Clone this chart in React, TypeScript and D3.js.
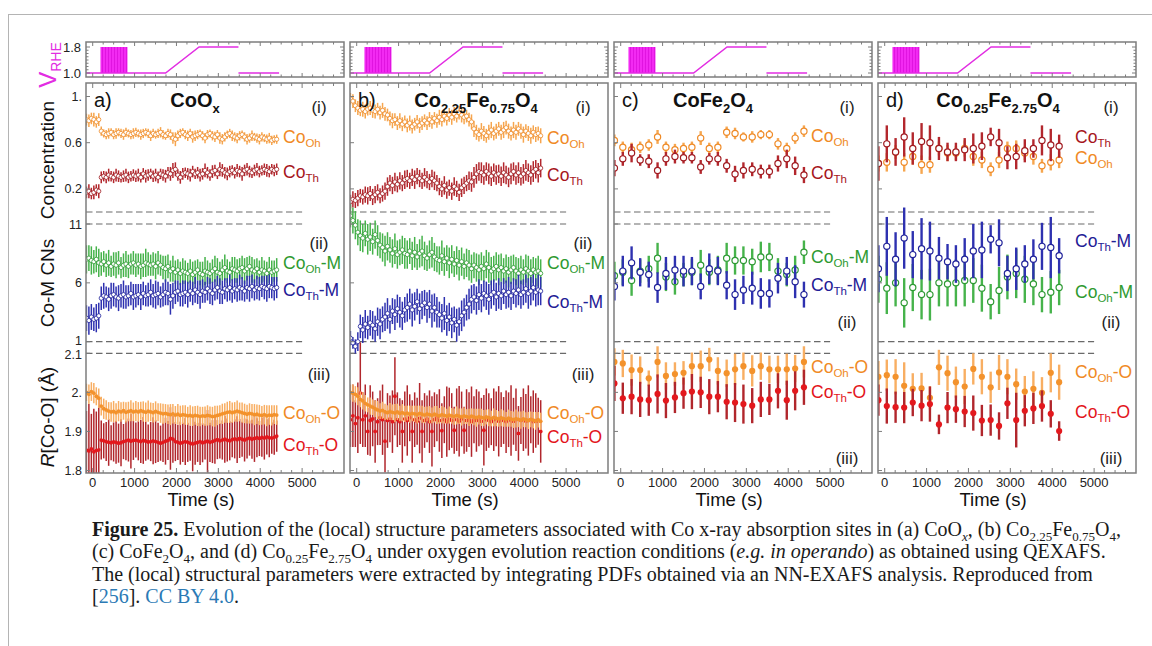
import React from "react";
import * as d3 from "d3";

// ---------- sampling grids ----------
const DENSE_START = -150;
const DENSE_STEP = 59;
const DENSE_COUNT = 78;
const denseTimes = d3.range(DENSE_COUNT).map((k) => DENSE_START + DENSE_STEP * k);
const sparseTimes = [-150, 50, 260, 465, 670, 880, 1080, 1295, 1500, 1700, 1910, 2115, 2320, 2530, 2730, 2930, 3140, 3345, 3550, 3755, 3965, 4165, 4375];
const sparseTimesD = sparseTimes.slice(0, 22);

// ---------- applied potential protocol (V vs RHE) ----------
const potentialMain: [number, number][] = [[-200, 1.0], [185, 1.0], [830, 1.0], [1740, 1.0], [2540, 1.8], [3480, 1.8]];
const potentialTail: [number, number][] = [[3480, 1.0], [4450, 1.0]];
const pulseWindow = { start: 185, end: 830, low: 1.0, high: 1.8 };

// ---------- axis ticks ----------
const timeMajor = [0, 1000, 2000, 3000, 4000, 5000];
const timeMinor = d3.range(0, 6000, 250);
const concTicks = [1.0, 0.6, 0.2];
const concTickLabels = ["1.", "0.6", "0.2"];
const cnTicks = [11, 6, 1];
const cnTickLabels = ["11", "6", "1"];
const rTicks = [2.1, 2.0, 1.9, 1.8];
const rTickLabels = ["2.1", "2.", "1.9", "1.8"];
const vTicks = [1.8, 1.0];
const vTickLabels = ["1.8", "1.0"];
const vMinor = [1.0, 1.1, 1.2, 1.3, 1.4, 1.5, 1.6, 1.7, 1.8];

// ---------- (a) CoOx ----------
const aOhConc = [
  0.80, 0.79, 0.81, 0.80, 0.78, 0.80, 0.70, 0.68, 0.67, 0.68,
  0.69, 0.67, 0.68, 0.69, 0.68, 0.67, 0.69, 0.68, 0.67, 0.68,
  0.69, 0.68, 0.67, 0.68, 0.69, 0.68, 0.66, 0.68, 0.67, 0.68,
  0.69, 0.67, 0.66, 0.68, 0.67, 0.64, 0.63, 0.66, 0.68, 0.69,
  0.67, 0.66, 0.68, 0.65, 0.66, 0.67, 0.68, 0.66, 0.64, 0.67,
  0.68, 0.66, 0.65, 0.67, 0.64, 0.63, 0.65, 0.67, 0.68, 0.66,
  0.65, 0.64, 0.66, 0.67, 0.65, 0.63, 0.64, 0.66, 0.65, 0.64,
  0.63, 0.65, 0.64, 0.63, 0.64, 0.62, 0.63, 0.63,
];
const aOhConcErr = [
  0.050, 0.055, 0.050, 0.060, 0.050, 0.055, 0.040, 0.035, 0.040, 0.045,
  0.035, 0.040, 0.045, 0.035, 0.040, 0.045, 0.040, 0.035, 0.040, 0.045,
  0.040, 0.035, 0.045, 0.040, 0.035, 0.040, 0.045, 0.040, 0.035, 0.040,
  0.045, 0.040, 0.035, 0.040, 0.045, 0.050, 0.060, 0.045, 0.040, 0.035,
  0.040, 0.045, 0.040, 0.050, 0.045, 0.040, 0.035, 0.040, 0.045, 0.040,
  0.035, 0.040, 0.045, 0.040, 0.050, 0.045, 0.040, 0.035, 0.040, 0.045,
  0.040, 0.045, 0.040, 0.035, 0.040, 0.045, 0.040, 0.045, 0.035, 0.040,
  0.045, 0.040, 0.035, 0.040, 0.045, 0.040, 0.035, 0.040,
];
const aThConc = [
  0.17, 0.18, 0.16, 0.17, 0.19, 0.18, 0.30, 0.31, 0.30, 0.32,
  0.31, 0.30, 0.32, 0.31, 0.30, 0.31, 0.32, 0.30, 0.31, 0.32,
  0.31, 0.32, 0.30, 0.33, 0.31, 0.32, 0.33, 0.31, 0.32, 0.30,
  0.33, 0.32, 0.31, 0.34, 0.33, 0.36, 0.37, 0.32, 0.30, 0.33,
  0.34, 0.33, 0.32, 0.35, 0.33, 0.34, 0.32, 0.33, 0.36, 0.34,
  0.32, 0.35, 0.36, 0.33, 0.37, 0.36, 0.34, 0.33, 0.35, 0.36,
  0.34, 0.36, 0.35, 0.33, 0.36, 0.37, 0.35, 0.34, 0.36, 0.37,
  0.35, 0.36, 0.37, 0.36, 0.35, 0.37, 0.36, 0.37,
];
const aThConcErr = [
  0.050, 0.060, 0.050, 0.060, 0.050, 0.060, 0.050, 0.045, 0.050, 0.055,
  0.045, 0.050, 0.055, 0.050, 0.045, 0.050, 0.055, 0.050, 0.045, 0.050,
  0.050, 0.055, 0.045, 0.050, 0.055, 0.050, 0.045, 0.050, 0.055, 0.050,
  0.045, 0.050, 0.055, 0.050, 0.060, 0.065, 0.060, 0.050, 0.055, 0.050,
  0.045, 0.050, 0.055, 0.050, 0.045, 0.050, 0.055, 0.050, 0.060, 0.050,
  0.050, 0.055, 0.050, 0.045, 0.060, 0.055, 0.050, 0.055, 0.050, 0.045,
  0.050, 0.055, 0.050, 0.060, 0.050, 0.055, 0.050, 0.045, 0.050, 0.055,
  0.050, 0.045, 0.050, 0.055, 0.050, 0.045, 0.050, 0.050,
];
const aOhCN = [
  8.0, 8.1, 7.9, 7.8, 8.0, 7.7, 7.6, 7.8, 7.5, 7.7,
  7.4, 7.6, 7.5, 7.7, 7.3, 7.5, 7.6, 7.4, 7.6, 7.7,
  7.5, 7.6, 7.4, 7.5, 7.7, 7.6, 7.5, 7.6, 7.4, 7.7,
  7.5, 7.3, 7.2, 7.4, 7.0, 7.2, 6.9, 7.1, 6.8, 7.0,
  6.9, 6.8, 7.0, 6.7, 6.9, 7.1, 6.8, 6.7, 7.0, 6.9,
  6.8, 7.0, 7.2, 6.9, 6.8, 7.1, 7.3, 7.0, 6.9, 7.2,
  7.1, 7.0, 7.2, 7.3, 7.0, 7.2, 7.4, 7.1, 7.0, 7.2,
  6.9, 7.1, 7.0, 6.8, 7.1, 6.9, 7.0, 7.1,
];
const aOhCNErr = [
  1.2, 1.1, 1.2, 1.0, 1.1, 1.2, 1.0, 0.9, 1.0, 1.1,
  0.9, 1.0, 1.1, 1.0, 0.9, 1.0, 1.1, 1.0, 0.9, 1.0,
  1.0, 0.9, 1.1, 1.0, 1.2, 1.0, 0.9, 1.0, 1.1, 1.0,
  0.9, 1.0, 1.1, 1.0, 0.9, 1.1, 1.0, 0.9, 1.0, 1.1,
  1.0, 0.9, 1.0, 1.1, 1.0, 0.9, 1.0, 1.1, 1.2, 1.0,
  0.9, 1.0, 1.1, 1.2, 1.0, 0.9, 1.1, 1.0, 0.9, 1.0,
  1.1, 1.0, 0.9, 1.0, 1.1, 1.0, 0.9, 1.1, 1.0, 0.9,
  1.0, 1.1, 0.9, 1.0, 1.1, 1.0, 0.9, 1.0,
];
const aThCN = [
  3.0, 2.8, 3.1, 2.9, 3.0, 3.2, 4.7, 4.9, 4.8, 4.6,
  4.9, 5.0, 4.8, 4.7, 4.9, 5.0, 4.8, 4.9, 5.1, 4.8,
  4.9, 5.0, 4.8, 5.1, 4.9, 5.0, 5.2, 4.9, 5.0, 5.1,
  4.8, 5.0, 5.2, 5.1, 4.6, 4.9, 5.2, 5.3, 5.0, 5.1,
  5.2, 5.0, 5.3, 5.1, 5.4, 5.2, 5.0, 5.3, 5.2, 5.5,
  5.3, 5.1, 5.4, 5.6, 5.3, 5.2, 5.5, 5.4, 5.6, 5.3,
  5.5, 5.4, 5.6, 5.5, 5.3, 5.6, 5.5, 5.7, 5.4, 5.6,
  5.5, 5.7, 5.6, 5.5, 5.7, 5.6, 5.5, 5.6,
];
const aThCNErr = [
  1.1, 1.2, 1.1, 1.0, 1.2, 1.1, 1.0, 1.1, 0.9, 1.0,
  1.1, 1.0, 0.9, 1.1, 1.0, 1.2, 1.0, 0.9, 1.0, 1.1,
  1.0, 0.9, 1.1, 1.0, 0.9, 1.0, 1.1, 1.0, 1.2, 1.0,
  0.9, 1.0, 1.1, 1.0, 1.3, 1.1, 1.0, 0.9, 1.0, 1.1,
  1.0, 1.1, 0.9, 1.0, 1.1, 1.0, 1.2, 1.0, 0.9, 1.0,
  1.1, 1.0, 0.9, 1.0, 1.1, 1.0, 0.9, 1.0, 1.1, 1.0,
  0.9, 1.0, 1.1, 1.0, 0.9, 1.0, 1.1, 1.0, 0.9, 1.0,
  1.0, 0.9, 1.0, 1.1, 1.0, 0.9, 1.0, 0.9,
];
const aOhR = [
  2.000, 1.995, 2.002, 1.998, 1.990, 1.985, 1.965, 1.958, 1.955, 1.952,
  1.950, 1.951, 1.948, 1.952, 1.950, 1.953, 1.949, 1.951, 1.953, 1.950,
  1.952, 1.950, 1.953, 1.951, 1.949, 1.952, 1.950, 1.948, 1.951, 1.949,
  1.947, 1.945, 1.946, 1.944, 1.943, 1.945, 1.942, 1.944, 1.941, 1.943,
  1.942, 1.940, 1.941, 1.939, 1.941, 1.940, 1.938, 1.940, 1.939, 1.941,
  1.940, 1.938, 1.939, 1.941, 1.943, 1.945, 1.947, 1.949, 1.950, 1.948,
  1.950, 1.952, 1.950, 1.948, 1.946, 1.944, 1.946, 1.945, 1.943, 1.944,
  1.942, 1.941, 1.943, 1.940, 1.942, 1.941, 1.943, 1.942,
];
const aOhRErr = [
  0.022, 0.025, 0.024, 0.026, 0.023, 0.025, 0.024, 0.026, 0.025, 0.023,
  0.025, 0.027, 0.024, 0.026, 0.025, 0.023, 0.026, 0.025, 0.027, 0.024,
  0.026, 0.025, 0.023, 0.026, 0.025, 0.027, 0.024, 0.025, 0.026, 0.023,
  0.025, 0.026, 0.024, 0.025, 0.027, 0.025, 0.023, 0.026, 0.025, 0.024,
  0.025, 0.023, 0.026, 0.025, 0.024, 0.026, 0.025, 0.023, 0.025, 0.026,
  0.024, 0.025, 0.027, 0.025, 0.024, 0.026, 0.025, 0.027, 0.028, 0.026,
  0.025, 0.027, 0.024, 0.026, 0.025, 0.024, 0.026, 0.025, 0.027, 0.025,
  0.026, 0.024, 0.025, 0.027, 0.025, 0.026, 0.024, 0.025,
];
const aThR = [
  1.852, 1.850, 1.855, 1.848, 1.851, 1.853, 1.878, 1.876, 1.874, 1.872,
  1.871, 1.873, 1.872, 1.870, 1.871, 1.874, 1.876, 1.878, 1.875, 1.877,
  1.878, 1.876, 1.874, 1.877, 1.875, 1.873, 1.874, 1.876, 1.874, 1.872,
  1.870, 1.872, 1.875, 1.877, 1.882, 1.880, 1.874, 1.872, 1.870, 1.872,
  1.874, 1.872, 1.870, 1.868, 1.870, 1.872, 1.874, 1.871, 1.873, 1.875,
  1.872, 1.874, 1.877, 1.879, 1.876, 1.878, 1.880, 1.878, 1.876, 1.879,
  1.881, 1.879, 1.882, 1.880, 1.878, 1.881, 1.883, 1.880, 1.882, 1.884,
  1.882, 1.885, 1.883, 1.886, 1.884, 1.883, 1.885, 1.888,
];
const aThRErr = [
  0.100, 0.120, 0.090, 0.110, 0.100, 0.130, 0.050, 0.045, 0.050, 0.060,
  0.045, 0.050, 0.055, 0.050, 0.060, 0.045, 0.050, 0.055, 0.070, 0.050,
  0.045, 0.050, 0.055, 0.060, 0.050, 0.045, 0.050, 0.060, 0.055, 0.050,
  0.045, 0.050, 0.060, 0.050, 0.080, 0.060, 0.050, 0.045, 0.055, 0.050,
  0.060, 0.050, 0.045, 0.070, 0.055, 0.050, 0.060, 0.050, 0.045, 0.080,
  0.050, 0.055, 0.060, 0.050, 0.045, 0.050, 0.060, 0.055, 0.050, 0.045,
  0.050, 0.060, 0.050, 0.045, 0.055, 0.050, 0.045, 0.050, 0.060, 0.050,
  0.045, 0.050, 0.055, 0.045, 0.050, 0.040, 0.045, 0.040,
];

// ---------- (b) Co2.25Fe0.75O4 ----------
const bOhConc = [
  0.98, 0.96, 0.92, 0.90, 0.88, 0.89, 0.87, 0.89, 0.90, 0.88,
  0.87, 0.89, 0.86, 0.88, 0.85, 0.84, 0.81, 0.79, 0.80, 0.77,
  0.79, 0.76, 0.78, 0.75, 0.77, 0.74, 0.76, 0.78, 0.75, 0.77,
  0.79, 0.77, 0.80, 0.78, 0.81, 0.79, 0.82, 0.80, 0.83, 0.81,
  0.84, 0.82, 0.85, 0.83, 0.86, 0.84, 0.82, 0.83, 0.80, 0.78,
  0.72, 0.69, 0.67, 0.70, 0.68, 0.66, 0.69, 0.71, 0.68, 0.70,
  0.72, 0.69, 0.71, 0.73, 0.70, 0.68, 0.71, 0.69, 0.72, 0.70,
  0.67, 0.70, 0.68, 0.66, 0.69, 0.67, 0.68, 0.66,
];
const bOhConcErr = [
  0.050, 0.060, 0.055, 0.060, 0.050, 0.065, 0.060, 0.055, 0.060, 0.065,
  0.060, 0.055, 0.060, 0.065, 0.060, 0.055, 0.060, 0.065, 0.055, 0.060,
  0.065, 0.060, 0.055, 0.060, 0.065, 0.060, 0.055, 0.060, 0.065, 0.060,
  0.055, 0.060, 0.065, 0.060, 0.055, 0.060, 0.065, 0.060, 0.055, 0.060,
  0.060, 0.065, 0.060, 0.055, 0.060, 0.065, 0.060, 0.055, 0.060, 0.065,
  0.070, 0.065, 0.060, 0.070, 0.065, 0.060, 0.065, 0.070, 0.060, 0.065,
  0.060, 0.065, 0.070, 0.060, 0.065, 0.060, 0.070, 0.065, 0.060, 0.065,
  0.070, 0.060, 0.065, 0.070, 0.060, 0.065, 0.060, 0.065,
];
const bThConc = [
  0.09, 0.11, 0.10, 0.12, 0.14, 0.13, 0.15, 0.14, 0.16, 0.13,
  0.15, 0.17, 0.14, 0.16, 0.18, 0.22, 0.25, 0.23, 0.26, 0.24,
  0.27, 0.25, 0.28, 0.29, 0.27, 0.30, 0.28, 0.31, 0.29, 0.27,
  0.30, 0.28, 0.26, 0.29, 0.27, 0.25, 0.22, 0.20, 0.23, 0.19,
  0.21, 0.18, 0.22, 0.20, 0.17, 0.21, 0.23, 0.25, 0.27, 0.26,
  0.30, 0.33, 0.35, 0.34, 0.32, 0.35, 0.33, 0.31, 0.34, 0.32,
  0.33, 0.31, 0.34, 0.32, 0.30, 0.33, 0.35, 0.32, 0.34, 0.31,
  0.33, 0.36, 0.34, 0.32, 0.35, 0.37, 0.34, 0.38,
];
const bThConcErr = [
  0.060, 0.070, 0.065, 0.070, 0.060, 0.065, 0.070, 0.075, 0.065, 0.070,
  0.075, 0.070, 0.065, 0.070, 0.075, 0.080, 0.070, 0.075, 0.080, 0.070,
  0.075, 0.070, 0.080, 0.075, 0.070, 0.075, 0.080, 0.070, 0.075, 0.070,
  0.080, 0.075, 0.070, 0.075, 0.080, 0.070, 0.075, 0.070, 0.080, 0.075,
  0.070, 0.075, 0.080, 0.070, 0.075, 0.080, 0.075, 0.070, 0.080, 0.085,
  0.090, 0.085, 0.080, 0.090, 0.085, 0.080, 0.090, 0.085, 0.080, 0.085,
  0.080, 0.085, 0.090, 0.080, 0.085, 0.090, 0.080, 0.085, 0.090, 0.080,
  0.085, 0.090, 0.080, 0.085, 0.090, 0.080, 0.085, 0.080,
];
const bOhCN = [
  11.7, 11.3, 10.9, 10.3, 10.0, 9.8, 10.2, 9.7, 9.9, 9.5,
  10.1, 9.6, 9.2, 9.0, 8.7, 9.1, 8.8, 8.5, 8.9, 8.4,
  8.6, 8.8, 8.5, 8.4, 8.7, 8.3, 8.6, 8.2, 8.5, 8.7,
  8.3, 8.1, 8.4, 8.6, 8.2, 8.0, 7.9, 8.3, 7.8, 8.1,
  7.7, 8.0, 7.6, 7.9, 7.5, 7.8, 7.4, 7.7, 7.5, 7.2,
  7.5, 7.3, 7.1, 7.4, 7.2, 7.6, 7.3, 7.0, 7.2, 7.4,
  7.1, 7.3, 7.0, 7.2, 6.9, 7.1, 7.3, 7.0, 6.8, 7.1,
  6.9, 7.2, 7.0, 6.8, 7.1, 6.9, 7.0, 6.8,
];
const bOhCNErr = [
  1.0, 1.1, 1.2, 1.1, 1.3, 1.2, 1.1, 1.3, 1.2, 1.1,
  1.2, 1.3, 1.1, 1.2, 1.3, 1.2, 1.1, 1.2, 1.3, 1.2,
  1.1, 1.2, 1.3, 1.2, 1.1, 1.2, 1.3, 1.1, 1.2, 1.3,
  1.2, 1.1, 1.2, 1.3, 1.2, 1.1, 1.2, 1.3, 1.2, 1.1,
  1.3, 1.2, 1.1, 1.2, 1.3, 1.2, 1.1, 1.2, 1.3, 1.2,
  1.1, 1.2, 1.3, 1.2, 1.1, 1.2, 1.3, 1.2, 1.1, 1.2,
  1.3, 1.2, 1.1, 1.2, 1.3, 1.2, 1.1, 1.2, 1.3, 1.2,
  1.1, 1.2, 1.3, 1.2, 1.1, 1.2, 1.3, 1.2,
];
const bThCN = [
  1.3, 0.9, 0.6, 1.0, 2.3, 2.0, 2.5, 2.2, 2.6, 2.4,
  2.1, 2.7, 2.5, 2.9, 3.1, 3.4, 2.9, 3.6, 3.3, 3.8,
  3.5, 3.2, 3.7, 3.9, 4.2, 3.7, 4.0, 4.4, 3.8, 4.1,
  4.3, 3.9, 4.2, 3.6, 3.9, 3.5, 3.3, 3.0, 3.4, 2.8,
  3.1, 2.6, 2.9, 2.4, 2.7, 3.2, 3.5, 3.9, 4.2, 4.6,
  4.8, 4.5, 5.0, 4.7, 5.1, 4.9, 4.6, 5.0, 5.2, 4.8,
  5.1, 4.9, 5.3, 5.0, 5.2, 4.9, 5.3, 5.1, 5.4, 5.0,
  5.2, 5.5, 5.1, 5.3, 5.6, 5.2, 5.4, 5.3,
];
const bThCNErr = [
  0.6, 0.5, 0.6, 0.8, 1.0, 1.1, 1.2, 1.0, 1.1, 1.2,
  1.1, 1.2, 1.3, 1.1, 1.2, 1.3, 1.2, 1.1, 1.3, 1.2,
  1.3, 1.2, 1.1, 1.2, 1.3, 1.4, 1.2, 1.1, 1.3, 1.2,
  1.1, 1.3, 1.2, 1.4, 1.2, 1.3, 1.1, 1.2, 1.4, 1.3,
  1.2, 1.3, 1.1, 1.4, 1.2, 1.3, 1.2, 1.1, 1.3, 1.2,
  1.1, 1.2, 1.3, 1.2, 1.1, 1.2, 1.3, 1.2, 1.1, 1.2,
  1.3, 1.2, 1.1, 1.2, 1.3, 1.2, 1.1, 1.2, 1.3, 1.2,
  1.1, 1.2, 1.3, 1.2, 1.1, 1.2, 1.3, 1.2,
];
const bOhR = [
  2.000, 1.998, 1.995, 1.990, 1.982, 1.978, 1.972, 1.968, 1.965, 1.962,
  1.958, 1.955, 1.952, 1.954, 1.950, 1.948, 1.951, 1.949, 1.947, 1.950,
  1.946, 1.948, 1.945, 1.947, 1.944, 1.946, 1.945, 1.943, 1.946, 1.944,
  1.942, 1.945, 1.943, 1.941, 1.944, 1.942, 1.940, 1.943, 1.941, 1.939,
  1.942, 1.940, 1.938, 1.941, 1.939, 1.937, 1.940, 1.938, 1.936, 1.939,
  1.937, 1.935, 1.938, 1.936, 1.934, 1.937, 1.935, 1.933, 1.936, 1.934,
  1.932, 1.935, 1.933, 1.931, 1.934, 1.932, 1.930, 1.933, 1.931, 1.929,
  1.932, 1.930, 1.928, 1.931, 1.929, 1.927, 1.930, 1.926,
];
const bOhRErr = [
  0.020, 0.022, 0.021, 0.023, 0.020, 0.022, 0.021, 0.019, 0.022, 0.020,
  0.021, 0.023, 0.020, 0.022, 0.021, 0.019, 0.022, 0.020, 0.023, 0.021,
  0.020, 0.022, 0.021, 0.019, 0.022, 0.020, 0.021, 0.023, 0.020, 0.022,
  0.021, 0.019, 0.022, 0.020, 0.021, 0.023, 0.020, 0.022, 0.021, 0.019,
  0.022, 0.020, 0.021, 0.023, 0.020, 0.022, 0.021, 0.019, 0.022, 0.020,
  0.021, 0.023, 0.020, 0.022, 0.021, 0.019, 0.022, 0.020, 0.023, 0.021,
  0.020, 0.022, 0.021, 0.019, 0.022, 0.020, 0.021, 0.023, 0.020, 0.022,
  0.021, 0.019, 0.022, 0.020, 0.021, 0.023, 0.020, 0.022,
];
const bThR = [
  1.930, 1.940, 1.920, 1.935, 1.998, 1.930, 1.940, 1.900, 1.928, 1.932,
  1.900, 1.925, 1.935, 1.930, 1.875, 1.928, 1.932, 1.925, 1.990, 1.930,
  1.925, 1.900, 1.932, 1.928, 1.935, 1.900, 1.930, 1.926, 1.934, 1.900,
  1.928, 1.932, 1.925, 1.900, 1.930, 1.935, 1.928, 1.902, 1.930, 1.925,
  1.932, 1.928, 1.903, 1.930, 1.926, 1.932, 1.903, 1.928, 1.930, 1.925,
  1.930, 1.928, 1.932, 1.926, 1.903, 1.930, 1.928, 1.925, 1.930, 1.932,
  1.926, 1.930, 1.928, 1.925, 1.930, 1.928, 1.926, 1.930, 1.895, 1.928,
  1.930, 1.926, 1.928, 1.930, 1.925, 1.928, 1.926, 1.900,
];
const bThRErr = [
  0.07, 0.08, 0.06, 0.09, 0.13, 0.07, 0.08, 0.06, 0.09, 0.07,
  0.08, 0.06, 0.07, 0.09, 0.08, 0.07, 0.06, 0.08, 0.10, 0.07,
  0.06, 0.08, 0.07, 0.09, 0.06, 0.08, 0.07, 0.06, 0.09, 0.08,
  0.07, 0.06, 0.08, 0.09, 0.07, 0.06, 0.08, 0.07, 0.06, 0.09,
  0.08, 0.07, 0.06, 0.08, 0.09, 0.07, 0.06, 0.08, 0.07, 0.09,
  0.06, 0.08, 0.07, 0.06, 0.09, 0.08, 0.07, 0.06, 0.08, 0.07,
  0.09, 0.07, 0.06, 0.08, 0.07, 0.09, 0.06, 0.08, 0.07, 0.06,
  0.08, 0.07, 0.09, 0.06, 0.08, 0.07, 0.06, 0.08,
];

// ---------- (c) CoFe2O4 ----------
const cOhConc = [0.62, 0.56, 0.54, 0.56, 0.58, 0.65, 0.56, 0.54, 0.55, 0.56, 0.64, 0.55, 0.56, 0.69, 0.68, 0.65, 0.65, 0.67, 0.67, 0.59, 0.55, 0.64, 0.70];
const cOhConcErr = [0.05, 0.05, 0.06, 0.05, 0.05, 0.06, 0.05, 0.05, 0.05, 0.05, 0.06, 0.05, 0.05, 0.05, 0.05, 0.04, 0.05, 0.04, 0.04, 0.05, 0.05, 0.05, 0.05];
const cThConc = [0.38, 0.46, 0.51, 0.45, 0.44, 0.36, 0.46, 0.48, 0.47, 0.47, 0.39, 0.46, 0.46, 0.40, 0.33, 0.36, 0.37, 0.35, 0.35, 0.42, 0.46, 0.40, 0.32];
const cThConcErr = [0.07, 0.06, 0.08, 0.05, 0.06, 0.07, 0.06, 0.06, 0.05, 0.05, 0.06, 0.05, 0.06, 0.06, 0.07, 0.07, 0.06, 0.06, 0.06, 0.07, 0.08, 0.08, 0.07];
const cOhCN = [6.6, 6.9, 6.2, 7.0, 7.2, 8.1, 6.5, 6.1, 6.7, 6.9, 7.5, 6.9, 7.1, 8.1, 7.9, 7.9, 7.8, 8.2, 8.2, 7.0, 6.7, 7.1, 8.6];
const cOhCNErr = [1.2, 1.1, 1.3, 1.0, 1.1, 1.3, 1.2, 1.1, 1.0, 1.1, 1.3, 1.1, 1.2, 1.3, 1.2, 1.2, 1.1, 1.3, 1.2, 1.1, 1.0, 1.2, 1.0];
const cThCN = [5.7, 7.0, 7.7, 6.9, 6.7, 5.6, 6.8, 7.1, 7.0, 7.0, 5.7, 7.2, 7.0, 5.8, 5.0, 5.4, 5.55, 5.1, 5.1, 6.4, 7.0, 6.1, 5.0];
const cThCNErr = [1.2, 1.3, 1.4, 1.2, 1.1, 1.3, 1.4, 1.2, 1.3, 1.2, 1.1, 1.3, 1.2, 1.2, 1.3, 1.2, 1.4, 1.3, 1.2, 1.3, 1.2, 1.4, 1.1];
const cOhR = [2.078, 2.074, 2.057, 2.057, 2.036, 2.078, 2.042, 2.047, 2.050, 2.067, 2.067, 2.084, 2.055, 2.049, 2.059, 2.067, 2.055, 2.067, 2.059, 2.059, 2.059, 2.061, 2.078];
const cOhRErr = [0.035, 0.035, 0.040, 0.035, 0.020, 0.040, 0.035, 0.030, 0.030, 0.035, 0.040, 0.030, 0.035, 0.035, 0.040, 0.035, 0.040, 0.035, 0.035, 0.035, 0.040, 0.035, 0.040];
const cThR = [2.023, 1.985, 1.989, 1.982, 1.980, 1.996, 1.979, 1.987, 1.998, 2.002, 2.000, 1.989, 1.989, 1.976, 1.974, 1.970, 1.966, 1.982, 1.982, 2.004, 1.980, 2.004, 2.013];
const cThRErr = [0.045, 0.040, 0.045, 0.045, 0.040, 0.050, 0.045, 0.040, 0.040, 0.045, 0.040, 0.045, 0.040, 0.045, 0.050, 0.050, 0.045, 0.045, 0.040, 0.045, 0.050, 0.050, 0.045];

// ---------- (d) Co0.25Fe2.75O4 ----------
const dThConc = [0.42, 0.59, 0.52, 0.65, 0.55, 0.61, 0.60, 0.55, 0.52, 0.52, 0.54, 0.55, 0.57, 0.65, 0.60, 0.47, 0.48, 0.53, 0.55, 0.62, 0.58, 0.57];
const dThConcErr = [0.15, 0.16, 0.12, 0.17, 0.14, 0.16, 0.15, 0.10, 0.08, 0.08, 0.10, 0.13, 0.12, 0.08, 0.12, 0.10, 0.11, 0.10, 0.08, 0.13, 0.14, 0.10];
const dOhConc = [0.42, 0.43, 0.52, 0.43, 0.48, 0.41, 0.41, 0.55, 0.51, 0.51, 0.55, 0.48, 0.45, 0.37, 0.45, 0.55, 0.55, 0.51, 0.48, 0.40, 0.43, 0.45];
const dOhConcErr = [0.07, 0.08, 0.06, 0.08, 0.07, 0.08, 0.07, 0.06, 0.07, 0.06, 0.07, 0.08, 0.07, 0.06, 0.07, 0.06, 0.07, 0.06, 0.07, 0.06, 0.07, 0.07];
const dThCN = [7.2, 9.1, 8.0, 9.8, 8.4, 8.9, 8.7, 8.1, 7.8, 7.6, 8.0, 8.7, 8.8, 9.7, 9.4, 6.8, 7.2, 7.6, 8.0, 9.1, 9.0, 8.3];
const dThCNErr = [2.0, 2.5, 2.3, 2.6, 2.0, 2.6, 2.5, 1.8, 1.5, 1.6, 1.8, 2.3, 2.4, 1.2, 2.0, 1.5, 1.8, 1.6, 1.7, 2.0, 2.6, 1.5];
const dOhCN = [6.3, 5.55, 6.0, 4.3, 5.6, 5.0, 5.0, 6.0, 5.9, 6.0, 6.2, 6.2, 5.55, 4.4, 5.35, 6.5, 6.8, 6.3, 5.9, 5.0, 5.2, 5.6];
const dOhCNErr = [2.0, 2.2, 2.0, 2.1, 2.0, 2.1, 2.2, 2.0, 1.9, 2.0, 2.2, 1.9, 2.0, 1.5, 2.0, 1.9, 2.1, 2.0, 1.8, 1.5, 1.8, 1.5];
const dOhR = [2.040, 2.044, 2.040, 2.017, 2.009, 2.010, 1.986, 2.064, 2.049, 2.026, 2.015, 2.060, 2.040, 2.013, 2.051, 2.040, 2.021, 2.002, 2.009, 1.999, 2.050, 2.026];
const dOhRErr = [0.040, 0.040, 0.045, 0.060, 0.040, 0.040, 0.030, 0.045, 0.045, 0.040, 0.045, 0.040, 0.045, 0.040, 0.045, 0.045, 0.040, 0.040, 0.045, 0.040, 0.050, 0.045];
const dThR = [1.980, 1.965, 1.962, 1.961, 1.974, 1.966, 1.970, 1.918, 1.961, 1.957, 1.951, 1.947, 1.928, 1.929, 1.914, 1.972, 1.929, 1.953, 1.959, 1.965, 1.945, 1.901];
const dThRErr = [0.040, 0.045, 0.040, 0.040, 0.035, 0.040, 0.045, 0.025, 0.040, 0.035, 0.040, 0.045, 0.040, 0.040, 0.035, 0.040, 0.070, 0.040, 0.040, 0.040, 0.035, 0.025];

// ---------- layout ----------
const W = 1152;
const H = 646;
const PANEL_X0 = 86;
const PANEL_DX = 264;
const PANEL_W = 258;
const V_TOP = 42;
const V_BOT = 77;
const M_TOP = 83;
const M_BOT = 473;
const T_DOMAIN = [-160, 6000];
const SANS = "'Liberation Sans', Arial, Helvetica, sans-serif";
const SERIF = "'Liberation Serif', 'Times New Roman', serif";
const FRAME = "#7d7d7d";
const MAGENTA = "#e22de2";
const LINK = "#2b7ab5";

const yScales = {
  conc: d3.scaleLinear().domain([0, 1]).range([212, 96.5]),
  cn: d3.scaleLinear().domain([1, 11]).range([341.7, 224]),
  r: d3.scaleLinear().domain([1.8, 2.1]).range([470.5, 353.3]),
};
const yV = d3.scaleLinear().domain([1.0, 1.8]).range([73, 47]);

type Band = "conc" | "cn" | "r";
type Look = { bar: string; stroke: string; fill: string };
const looks: Record<string, Look> = {
  ohConc: { bar: "#f6a64f", stroke: "#ef8a26", fill: "#ffffff" },
  thConc: { bar: "#b3272d", stroke: "#a01a20", fill: "#ffffff" },
  ohCN: { bar: "#46b34b", stroke: "#2e9a34", fill: "#ffffff" },
  thCN: { bar: "#2e31b0", stroke: "#20229a", fill: "#ffffff" },
  ohR: { bar: "#f8ae62", stroke: "none", fill: "#f3922c" },
  thR: { bar: "#b1262c", stroke: "none", fill: "#e3181d" },
};
const textColor = {
  oh: "#f08a25",
  th: "#a6161c",
  ohm: "#2e9a30",
  thm: "#1f2096",
  tho: "#e3151b",
};

type SeriesSpec = { band: Band; times: number[]; values: number[]; errors: number[]; look: string; dense: boolean };
type Part = { t: string; sub?: boolean; it?: boolean; b?: boolean; fill?: string };
type LegendSpec = { parts: Part[]; fill: string; y: number };

const co = (site: string, tail?: string): Part[] => {
  const p: Part[] = [{ t: "Co" }, { t: site, sub: true }];
  if (tail) p.push({ t: tail });
  return p;
};

const dense = (band: Band, values: number[], errors: number[], look: string): SeriesSpec => ({ band, times: denseTimes, values, errors, look, dense: true });
const sparse = (band: Band, times: number[], values: number[], errors: number[], look: string): SeriesSpec => ({ band, times, values, errors, look, dense: false });

const panels = [
  {
    letter: "a)",
    titleX: 109,
    title: [{ t: "CoO" }, { t: "x", sub: true }] as Part[],
    romanY: [113, 249, 380],
    series: [
      dense("conc", aThConc, aThConcErr, "thConc"),
      dense("conc", aOhConc, aOhConcErr, "ohConc"),
      dense("cn", aOhCN, aOhCNErr, "ohCN"),
      dense("cn", aThCN, aThCNErr, "thCN"),
      dense("r", aThR, aThRErr, "thR"),
      dense("r", aOhR, aOhRErr, "ohR"),
    ],
    legends: [
      { parts: co("Oh"), fill: textColor.oh, y: 143 },
      { parts: co("Th"), fill: textColor.th, y: 178 },
      { parts: co("Oh", "-M"), fill: textColor.ohm, y: 269 },
      { parts: co("Th", "-M"), fill: textColor.thm, y: 296 },
      { parts: co("Oh", "-O"), fill: textColor.oh, y: 419 },
      { parts: co("Th", "-O"), fill: textColor.tho, y: 451 },
    ] as LegendSpec[],
  },
  {
    letter: "b)",
    titleX: 126,
    title: [{ t: "Co" }, { t: "2.25", sub: true }, { t: "Fe" }, { t: "0.75", sub: true }, { t: "O" }, { t: "4", sub: true }] as Part[],
    romanY: [113, 249, 380],
    series: [
      dense("conc", bThConc, bThConcErr, "thConc"),
      dense("conc", bOhConc, bOhConcErr, "ohConc"),
      dense("cn", bOhCN, bOhCNErr, "ohCN"),
      dense("cn", bThCN, bThCNErr, "thCN"),
      dense("r", bThR, bThRErr, "thR"),
      dense("r", bOhR, bOhRErr, "ohR"),
    ],
    legends: [
      { parts: co("Oh"), fill: textColor.oh, y: 144 },
      { parts: co("Th"), fill: textColor.th, y: 181 },
      { parts: co("Oh", "-M"), fill: textColor.ohm, y: 269 },
      { parts: co("Th", "-M"), fill: textColor.thm, y: 308 },
      { parts: co("Oh", "-O"), fill: textColor.oh, y: 419 },
      { parts: co("Th", "-O"), fill: textColor.tho, y: 443 },
    ] as LegendSpec[],
  },
  {
    letter: "c)",
    titleX: 99,
    title: [{ t: "CoFe" }, { t: "2", sub: true }, { t: "O" }, { t: "4", sub: true }] as Part[],
    romanY: [113, 328, 464],
    series: [
      sparse("conc", sparseTimes, cOhConc, cOhConcErr, "ohConc"),
      sparse("conc", sparseTimes, cThConc, cThConcErr, "thConc"),
      sparse("cn", sparseTimes, cOhCN, cOhCNErr, "ohCN"),
      sparse("cn", sparseTimes, cThCN, cThCNErr, "thCN"),
      sparse("r", sparseTimes, cOhR, cOhRErr, "ohR"),
      sparse("r", sparseTimes, cThR, cThRErr, "thR"),
    ],
    legends: [
      { parts: co("Oh"), fill: textColor.oh, y: 142 },
      { parts: co("Th"), fill: textColor.th, y: 179 },
      { parts: co("Oh", "-M"), fill: textColor.ohm, y: 263 },
      { parts: co("Th", "-M"), fill: textColor.thm, y: 291 },
      { parts: co("Oh", "-O"), fill: textColor.oh, y: 373 },
      { parts: co("Th", "-O"), fill: textColor.tho, y: 398 },
    ] as LegendSpec[],
  },
  {
    letter: "d)",
    titleX: 120,
    title: [{ t: "Co" }, { t: "0.25", sub: true }, { t: "Fe" }, { t: "2.75", sub: true }, { t: "O" }, { t: "4", sub: true }] as Part[],
    romanY: [113, 328, 464],
    series: [
      sparse("conc", sparseTimesD, dOhConc, dOhConcErr, "ohConc"),
      sparse("conc", sparseTimesD, dThConc, dThConcErr, "thConc"),
      sparse("cn", sparseTimesD, dOhCN, dOhCNErr, "ohCN"),
      sparse("cn", sparseTimesD, dThCN, dThCNErr, "thCN"),
      sparse("r", sparseTimesD, dOhR, dOhRErr, "ohR"),
      sparse("r", sparseTimesD, dThR, dThRErr, "thR"),
    ],
    legends: [
      { parts: co("Th"), fill: textColor.th, y: 143 },
      { parts: co("Oh"), fill: textColor.oh, y: 164 },
      { parts: co("Th", "-M"), fill: textColor.thm, y: 247 },
      { parts: co("Oh", "-M"), fill: textColor.ohm, y: 298 },
      { parts: co("Oh", "-O"), fill: textColor.oh, y: 378 },
      { parts: co("Th", "-O"), fill: textColor.tho, y: 418 },
    ] as LegendSpec[],
  },
];

// Text with subscript runs laid out as tspans.
function Rich(props: {
  x: number; y: number; parts: Part[]; size: number; subSize: number; shift?: number;
  anchor?: string; family?: string; weight?: string | number; fill?: string; transform?: string;
}) {
  const { x, y, parts, size, subSize, anchor, family, weight, fill, transform } = props;
  const shift = props.shift ?? size * 0.28;
  let cur = 0;
  return (
    <text x={x} y={y} fontFamily={family ?? SANS} fontWeight={weight} fill={fill ?? "#111"} textAnchor={anchor} transform={transform} style={{ whiteSpace: "pre" }}>
      {parts.map((p, i) => {
        const target = p.sub ? shift : 0;
        const dy = target - cur;
        cur = target;
        return (
          <tspan key={i} dy={dy} fontSize={p.sub ? subSize : size} fontStyle={p.it ? "italic" : undefined} fontWeight={p.b ? "bold" : undefined} fill={p.fill}>
            {p.t}
          </tspan>
        );
      })}
    </text>
  );
}

function SeriesMarks({ s, x }: { s: SeriesSpec; x: d3.ScaleLinear<number, number> }) {
  const y = yScales[s.band];
  const look = looks[s.look];
  const bw = s.dense ? 1.5 : 2.4;
  const r = s.dense ? (s.band === "r" ? 1.9 : 2.1) : 3.1;
  const sw = s.dense ? 0.8 : 1.2;
  return (
    <g>
      {s.values.map((v, i) => (
        <line key={"b" + i} x1={x(s.times[i])} x2={x(s.times[i])} y1={y(v - s.errors[i])} y2={y(v + s.errors[i])} stroke={look.bar} strokeWidth={bw} />
      ))}
      {s.values.map((v, i) => (
        <circle key={"m" + i} cx={x(s.times[i])} cy={y(v)} r={r} fill={look.fill} stroke={look.stroke} strokeWidth={sw} />
      ))}
    </g>
  );
}

function Panel({ p, idx }: { p: (typeof panels)[number]; idx: number }) {
  const left = PANEL_X0 + idx * PANEL_DX;
  const right = left + PANEL_W;
  const x = d3.scaleLinear().domain(T_DOMAIN).range([left, right]);
  const vLine = d3.line<[number, number]>().x((d) => x(d[0])).y((d) => yV(d[1]));
  const clipMain = `clip-main-${idx}`;
  const clipV = `clip-v-${idx}`;
  const dashEnd = x(5000);
  const dashYs = [yScales.conc(0), yScales.cn(11), yScales.cn(1), yScales.r(2.1)];
  const leftTicks: number[] = [
    ...concTicks.map((v) => yScales.conc(v)),
    ...cnTicks.map((v) => yScales.cn(v)),
    ...rTicks.map((v) => yScales.r(v)),
  ];
  const leftLabels = [...concTickLabels, ...cnTickLabels, ...rTickLabels];
  // the CN "1" and R "2.1" labels sit close together; ease them apart a touch
  const labelNudge = leftLabels.map((l, i) => (i === 5 ? -1.5 : i === 6 ? 1.5 : 0));
  const legendX = left + 197;
  const romanX = left + 233;
  return (
    <g>
      <defs>
        <clipPath id={clipMain}>
          <rect x={left} y={M_TOP} width={PANEL_W} height={M_BOT - M_TOP} />
        </clipPath>
        <clipPath id={clipV}>
          <rect x={left} y={V_TOP} width={PANEL_W} height={V_BOT - V_TOP} />
        </clipPath>
      </defs>

      {/* potential strip */}
      <g clipPath={`url(#${clipV})`}>
        <rect x={x(pulseWindow.start)} y={yV(pulseWindow.high)} width={x(pulseWindow.end) - x(pulseWindow.start)} height={yV(pulseWindow.low) - yV(pulseWindow.high)} fill="url(#pulse-stripes)" />
        <path d={vLine(potentialMain) ?? ""} fill="none" stroke={MAGENTA} strokeWidth={1.5} />
        <path d={vLine(potentialTail) ?? ""} fill="none" stroke={MAGENTA} strokeWidth={1.5} />
      </g>
      <rect x={left} y={V_TOP} width={PANEL_W} height={V_BOT - V_TOP} fill="none" stroke={FRAME} strokeWidth={1.5} />
      {timeMinor.map((t) => {
        const len = t % 1000 === 0 ? 4 : 2.5;
        return (
          <g key={"vt" + t}>
            <line x1={x(t)} x2={x(t)} y1={V_TOP} y2={V_TOP + len} stroke={FRAME} strokeWidth={1} />
            <line x1={x(t)} x2={x(t)} y1={V_BOT} y2={V_BOT - len} stroke={FRAME} strokeWidth={1} />
          </g>
        );
      })}
      {vMinor.map((v, i) => {
        const len = vTicks.includes(v) ? 4 : 2.5;
        return (
          <g key={"vy" + i}>
            <line x1={left} x2={left + len} y1={yV(v)} y2={yV(v)} stroke={FRAME} strokeWidth={1} />
            <line x1={right} x2={right - len} y1={yV(v)} y2={yV(v)} stroke={FRAME} strokeWidth={1} />
          </g>
        );
      })}
      {idx === 0 &&
        vTicks.map((v, i) => (
          <text key={"vl" + i} x={left - 5} y={yV(v)} dy="0.36em" textAnchor="end" fontFamily={SANS} fontSize={13} fill="#222">
            {vTickLabels[i]}
          </text>
        ))}

      {/* main stacked panel */}
      <g clipPath={`url(#${clipMain})`}>
        {dashYs.map((yy, i) => (
          <line key={"dash" + i} x1={left} x2={dashEnd} y1={yy} y2={yy} stroke="#6a6a6a" strokeWidth={1.2} strokeDasharray="6.5 3.5" />
        ))}
        {p.series.map((s, i) => (
          <SeriesMarks key={"s" + i} s={s} x={x} />
        ))}
      </g>
      <rect x={left} y={M_TOP} width={PANEL_W} height={M_BOT - M_TOP} fill="none" stroke={FRAME} strokeWidth={1.5} />
      {timeMinor.map((t) => {
        const len = t % 1000 === 0 ? 5 : 3;
        return (
          <g key={"mt" + t}>
            <line x1={x(t)} x2={x(t)} y1={M_TOP} y2={M_TOP + len} stroke={FRAME} strokeWidth={1} />
            <line x1={x(t)} x2={x(t)} y1={M_BOT} y2={M_BOT - len} stroke={FRAME} strokeWidth={1} />
          </g>
        );
      })}
      {leftTicks.map((yy, i) => (
        <line key={"lt" + i} x1={left} x2={left + 4} y1={yy} y2={yy} stroke={FRAME} strokeWidth={1} />
      ))}
      {idx === 0 &&
        leftTicks.map((yy, i) => (
          <text key={"ll" + i} x={left - 4} y={yy + labelNudge[i]} dy="0.36em" textAnchor="end" fontFamily={SANS} fontSize={12.5} fill="#222">
            {leftLabels[i]}
          </text>
        ))}
      {timeMajor.map((t) => (
        <text key={"xl" + t} x={x(t)} y={487} textAnchor="middle" fontFamily={SANS} fontSize={13} fill="#222">
          {t}
        </text>
      ))}
      <text x={left + 115} y={506} textAnchor="middle" fontFamily={SANS} fontSize={18.5} fill="#111">
        Time (s)
      </text>

      {/* annotations */}
      <text x={left + 8} y={107} fontFamily={SANS} fontSize={20} fill="#111">
        {p.letter}
      </text>
      <Rich x={left + p.titleX} y={107} parts={p.title} size={20} subSize={13} anchor="middle" weight="bold" />
      {["(i)", "(ii)", "(iii)"].map((r, i) => (
        <text key={r} x={romanX} y={p.romanY[i]} textAnchor="middle" fontFamily={SANS} fontSize={17} fill="#222">
          {r}
        </text>
      ))}
      {p.legends.map((l, i) => (
        <Rich key={"lg" + i} x={legendX} y={l.y} parts={l.parts} size={17.5} subSize={11.5} shift={4} fill={l.fill} />
      ))}
    </g>
  );
}

const captionLines: Part[][] = [
  [
    { t: "Figure 25.", b: true },
    { t: " Evolution of the (local) structure parameters associated with Co x-ray absorption sites in (a) CoO" },
    { t: "x", sub: true, it: true },
    { t: ", (b) Co" },
    { t: "2.25", sub: true },
    { t: "Fe" },
    { t: "0.75", sub: true },
    { t: "O" },
    { t: "4", sub: true },
    { t: "," },
  ],
  [
    { t: "(c) CoFe" },
    { t: "2", sub: true },
    { t: "O" },
    { t: "4", sub: true },
    { t: ", and (d) Co" },
    { t: "0.25", sub: true },
    { t: "Fe" },
    { t: "2.75", sub: true },
    { t: "O" },
    { t: "4", sub: true },
    { t: " under oxygen evolution reaction conditions (" },
    { t: "e.g. in operando", it: true },
    { t: ") as obtained using QEXAFS." },
  ],
  [{ t: "The (local) structural parameters were extracted by integrating PDFs obtained via an NN-EXAFS analysis. Reproduced from" }],
  [{ t: "[" }, { t: "256", fill: LINK }, { t: "]. " }, { t: "CC BY 4.0", fill: LINK }, { t: "." }],
];
const captionBaselines = [536, 558, 581, 603];

export default function App() {
  return (
    <svg width={W} height={H} viewBox={`0 0 ${W} ${H}`} style={{ position: "absolute", left: 0, top: 0, background: "#fff" }}>
      <defs>
        <pattern id="pulse-stripes" width={3} height={10} patternUnits="userSpaceOnUse">
          <rect width={3} height={10} fill="#f22af2" />
          <rect width={1} height={10} fill="#e014e0" />
        </pattern>
      </defs>
      <rect x={0} y={0} width={W} height={H} fill="#fff" />
      <line x1={8} x2={W} y1={14.5} y2={14.5} stroke="#b4b4b4" strokeWidth={1} />
      <line x1={8.5} x2={8.5} y1={14} y2={H} stroke="#b4b4b4" strokeWidth={1} />

      {panels.map((p, i) => (
        <Panel key={i} p={p} idx={i} />
      ))}

      {/* axis titles */}
      <Rich x={56} y={65} parts={[{ t: "V" }, { t: "RHE", sub: true }]} size={24} subSize={14} shift={5} fill={MAGENTA} anchor="middle" transform="rotate(-90 56 65)" />
      <text x={54} y={160} transform="rotate(-90 54 160)" textAnchor="middle" fontFamily={SANS} fontSize={19} fill="#111">
        Concentration
      </text>
      <text x={54} y={283} transform="rotate(-90 54 283)" textAnchor="middle" fontFamily={SANS} fontSize={19} fill="#111">
        Co-M CNs
      </text>
      <Rich x={54} y={417} parts={[{ t: "R", it: true }, { t: "[Co-O] (Å)" }]} size={19} subSize={19} anchor="middle" transform="rotate(-90 54 417)" />

      {captionLines.map((line, i) => (
        <Rich key={"cap" + i} x={92} y={captionBaselines[i]} parts={line} size={20} subSize={13} shift={4.5} family={SERIF} fill="#1a1a1a" />
      ))}
    </svg>
  );
}
